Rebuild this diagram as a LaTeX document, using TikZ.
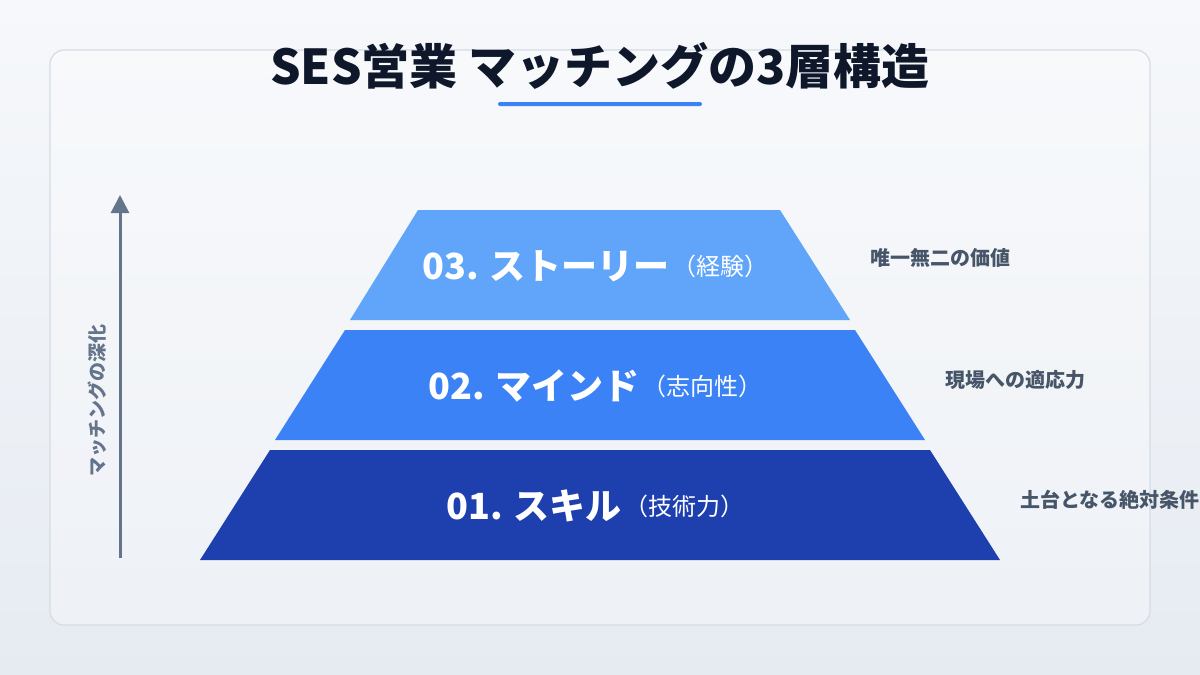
\documentclass[tikz,border=0pt]{standalone}
\usepackage{fontspec}
\setmainfont{Noto Sans CJK JP}
\usetikzlibrary{positioning,arrows.meta}
\definecolor{layerA}{HTML}{1E40AF}
\definecolor{layerB}{HTML}{3B82F6}
\definecolor{layerC}{HTML}{60A5FA}
\definecolor{inkdark}{HTML}{0F172A}
\definecolor{inkgray}{HTML}{475569}
\definecolor{axisgray}{HTML}{64748B}
\definecolor{bgtop}{HTML}{F6F8FB}
\definecolor{bgbottom}{HTML}{E6EBF2}
\definecolor{panelline}{HTML}{D5DCE5}
\tikzset{
  layertext/.style={text=white,anchor=west,inner sep=0pt,font=\fontsize{36}{38}\selectfont\bfseries},
  subtext/.style={text=white,inner sep=0pt,font=\fontsize{24}{26}\selectfont},
  sidetext/.style={text=inkgray,anchor=west,inner sep=0pt,font=\fontsize{20}{22}\selectfont\bfseries},
}
\begin{document}
\begin{tikzpicture}[x=1pt,y=-1pt]
\useasboundingbox (0,0) rectangle (1200,675);
\shade[top color=bgtop,bottom color=bgbottom] (0,0) rectangle (1200,675);
\draw[rounded corners=14,draw=panelline,line width=1.2,fill=white,fill opacity=0.3] (50,50) rectangle (1150,625);

% title
\node[text=inkdark,font=\fontsize{48}{50}\selectfont\bfseries] (title) at (600,66) {SES営業 マッチングの3層構造};
\fill[layerB,rounded corners=2] (498,102) rectangle (702,106);

% layers
\fill[layerC] (418,210) -- (780,210) -- (850,320) -- (350,320) -- cycle;
\fill[layerB] (345,330) -- (855,330) -- (925,440) -- (275,440) -- cycle;
\fill[layerA] (270,450) -- (930,450) -- (1000,560) -- (200,560) -- cycle;

\node[layertext] (story) at (422,266) {03. ストーリー};
\node[subtext,right=2pt of story] (storysub) {（経験）};
\node[layertext] (mind) at (428,386) {02. マインド};
\node[subtext,right=2pt of mind] (mindsub) {（志向性）};
\node[layertext] (skill) at (446,506) {01. スキル};
\node[subtext,right=2pt of skill] (skillsub) {（技術力）};

% side notes
\node[sidetext] (noteC) at (870,258) {唯一無二の価値};
\node[sidetext] (noteB) at (945,380) {現場への適応力};
\node[sidetext] (noteA) at (1020,500) {土台となる絶対条件};

% axis
\coordinate (axislow) at (120,558);
\coordinate (axishigh) at (120,195);
\draw[axisgray,line width=3,-{Triangle[length=18,width=18]}] (axislow) -- (axishigh);
\node[text=axisgray,rotate=90,font=\fontsize{19}{21}\selectfont\bfseries] (axislabel) at (97,400) {マッチングの深化};
\end{tikzpicture}
\end{document}
